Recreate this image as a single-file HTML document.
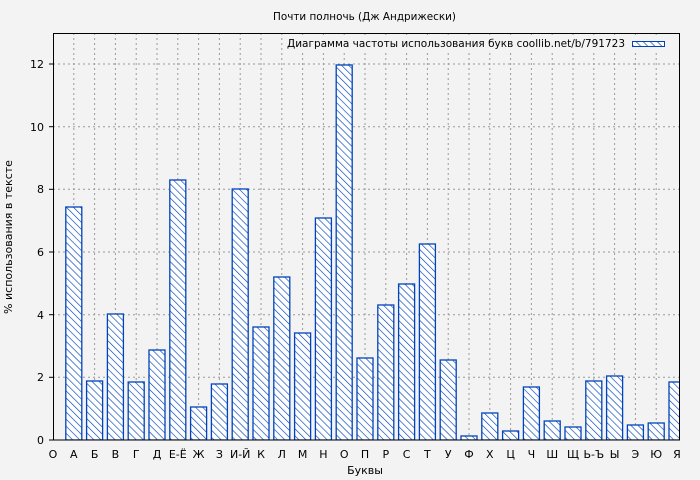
<!DOCTYPE html>
<html><head><meta charset="utf-8"><style>
html,body{margin:0;padding:0;background:#f3f3f3;}
svg{display:block;font-family:"DejaVu Sans","Liberation Sans",sans-serif;}
</style></head><body>
<svg width="700" height="480" viewBox="0 0 700 480" xmlns="http://www.w3.org/2000/svg">
<defs>
<pattern id="h" patternUnits="userSpaceOnUse" width="5" height="5" patternTransform="rotate(-45)">
<rect width="5" height="5" fill="#fff"/>
<line x1="0" y1="0" x2="0" y2="5" stroke="#0044bb" stroke-width="1.3"/>
</pattern>
<clipPath id="c"><rect x="53" y="33" width="627" height="407"/></clipPath>
</defs>
<rect width="700" height="480" fill="#f3f3f3"/>
<text x="273" y="20" font-size="11" textLength="183" lengthAdjust="spacingAndGlyphs" fill="#000">Почти полночь (Дж Андрижески)</text>
<g stroke="#999" stroke-dasharray="2,3" stroke-width="1">
<line x1="53" x2="680" y1="377.3" y2="377.3"/><line x1="53" x2="680" y1="314.7" y2="314.7"/>
<line x1="53" x2="680" y1="252" y2="252"/><line x1="53" x2="680" y1="189.3" y2="189.3"/>
<line x1="53" x2="680" y1="126.7" y2="126.7"/><line x1="53" x2="680" y1="64" y2="64"/>
<line x1="73.8" x2="73.8" y1="33" y2="440"/><line x1="94.6" x2="94.6" y1="33" y2="440"/><line x1="115.4" x2="115.4" y1="33" y2="440"/><line x1="136.2" x2="136.2" y1="33" y2="440"/><line x1="157" x2="157" y1="33" y2="440"/><line x1="177.8" x2="177.8" y1="33" y2="440"/><line x1="198.6" x2="198.6" y1="33" y2="440"/><line x1="219.4" x2="219.4" y1="33" y2="440"/><line x1="240.2" x2="240.2" y1="33" y2="440"/><line x1="261" x2="261" y1="33" y2="440"/><line x1="281.8" x2="281.8" y1="33" y2="440"/><line x1="302.6" x2="302.6" y1="33" y2="440"/><line x1="323.4" x2="323.4" y1="33" y2="440"/><line x1="344.2" x2="344.2" y1="33" y2="440"/><line x1="365" x2="365" y1="33" y2="440"/><line x1="385.8" x2="385.8" y1="33" y2="440"/><line x1="406.6" x2="406.6" y1="33" y2="440"/><line x1="427.4" x2="427.4" y1="33" y2="440"/><line x1="448.2" x2="448.2" y1="33" y2="440"/><line x1="469" x2="469" y1="33" y2="440"/><line x1="489.8" x2="489.8" y1="33" y2="440"/><line x1="510.6" x2="510.6" y1="33" y2="440"/><line x1="531.4" x2="531.4" y1="33" y2="440"/><line x1="552.2" x2="552.2" y1="33" y2="440"/><line x1="573" x2="573" y1="33" y2="440"/><line x1="593.8" x2="593.8" y1="33" y2="440"/><line x1="614.6" x2="614.6" y1="33" y2="440"/><line x1="635.4" x2="635.4" y1="33" y2="440"/><line x1="656.2" x2="656.2" y1="33" y2="440"/>
</g>
<rect x="284" y="35" width="386" height="15" fill="#f3f3f3"/>
<g fill="url(#h)" stroke="#0044bb" stroke-width="1.3" clip-path="url(#c)">
<rect x="65.8" y="207" width="16" height="233"/>
<rect x="86.6" y="381" width="16" height="59"/>
<rect x="107.4" y="314" width="16" height="126"/>
<rect x="128.2" y="382" width="16" height="58"/>
<rect x="149" y="350" width="16" height="90"/>
<rect x="169.8" y="180" width="16" height="260"/>
<rect x="190.6" y="407" width="16" height="33"/>
<rect x="211.4" y="384" width="16" height="56"/>
<rect x="232.2" y="189" width="16" height="251"/>
<rect x="253" y="327" width="16" height="113"/>
<rect x="273.8" y="277" width="16" height="163"/>
<rect x="294.6" y="333" width="16" height="107"/>
<rect x="315.4" y="218" width="16" height="222"/>
<rect x="336.2" y="65" width="16" height="375"/>
<rect x="357" y="358" width="16" height="82"/>
<rect x="377.8" y="305" width="16" height="135"/>
<rect x="398.6" y="284" width="16" height="156"/>
<rect x="419.4" y="244" width="16" height="196"/>
<rect x="440.2" y="360" width="16" height="80"/>
<rect x="461" y="436" width="16" height="4"/>
<rect x="481.8" y="413" width="16" height="27"/>
<rect x="502.6" y="431" width="16" height="9"/>
<rect x="523.4" y="387" width="16" height="53"/>
<rect x="544.2" y="421" width="16" height="19"/>
<rect x="565" y="427" width="16" height="13"/>
<rect x="585.8" y="381" width="16" height="59"/>
<rect x="606.6" y="376" width="16" height="64"/>
<rect x="627.4" y="425" width="16" height="15"/>
<rect x="648.2" y="423" width="16" height="17"/>
<rect x="669" y="382" width="16" height="58"/>
</g>
<rect x="53.5" y="33.5" width="626" height="406.5" fill="none" stroke="#000" stroke-width="1"/>
<g stroke="#000">
<line x1="49" x2="53" y1="440" y2="440"/><line x1="49" x2="53" y1="377.3" y2="377.3"/><line x1="49" x2="53" y1="314.7" y2="314.7"/><line x1="49" x2="53" y1="252" y2="252"/><line x1="49" x2="53" y1="189.3" y2="189.3"/><line x1="49" x2="53" y1="126.7" y2="126.7"/><line x1="49" x2="53" y1="64" y2="64"/>
</g>
<g font-size="11" text-anchor="end" fill="#000">
<text x="44" y="444">0</text><text x="44" y="381">2</text><text x="44" y="319">4</text><text x="44" y="256">6</text><text x="44" y="193">8</text><text x="44" y="131">10</text><text x="44" y="68">12</text>
</g>
<g font-size="11" text-anchor="middle" fill="#000">
<text x="53" y="458">О</text><text x="73.8" y="458">А</text><text x="94.6" y="458">Б</text><text x="115.4" y="458">В</text><text x="136.2" y="458">Г</text><text x="157" y="458">Д</text><text x="177.8" y="458">Е-Ё</text><text x="198.6" y="458">Ж</text><text x="219.4" y="458">З</text><text x="240.2" y="458">И-Й</text><text x="261" y="458">К</text><text x="281.8" y="458">Л</text><text x="302.6" y="458">М</text><text x="323.4" y="458">Н</text><text x="344.2" y="458">О</text><text x="365" y="458">П</text><text x="385.8" y="458">Р</text><text x="406.6" y="458">С</text><text x="427.4" y="458">Т</text><text x="448.2" y="458">У</text><text x="469" y="458">Ф</text><text x="489.8" y="458">Х</text><text x="510.6" y="458">Ц</text><text x="531.4" y="458">Ч</text><text x="552.2" y="458">Ш</text><text x="573" y="458">Щ</text><text x="593.8" y="458">Ь-Ъ</text><text x="614.6" y="458">Ы</text><text x="635.4" y="458">Э</text><text x="656.2" y="458">Ю</text><text x="677" y="458">Я</text>
<text x="365" y="474">Буквы</text>
<text transform="translate(12,237) rotate(-90)">% использования в тексте</text>
</g>
<text x="287" y="47" font-size="11" textLength="338" lengthAdjust="spacingAndGlyphs" fill="#000">Диаграмма частоты использования букв coollib.net/b/791723</text>
<rect x="632.5" y="41.5" width="32" height="5" fill="url(#h)" stroke="#0044bb" stroke-width="1"/>
</svg>
</body></html>
